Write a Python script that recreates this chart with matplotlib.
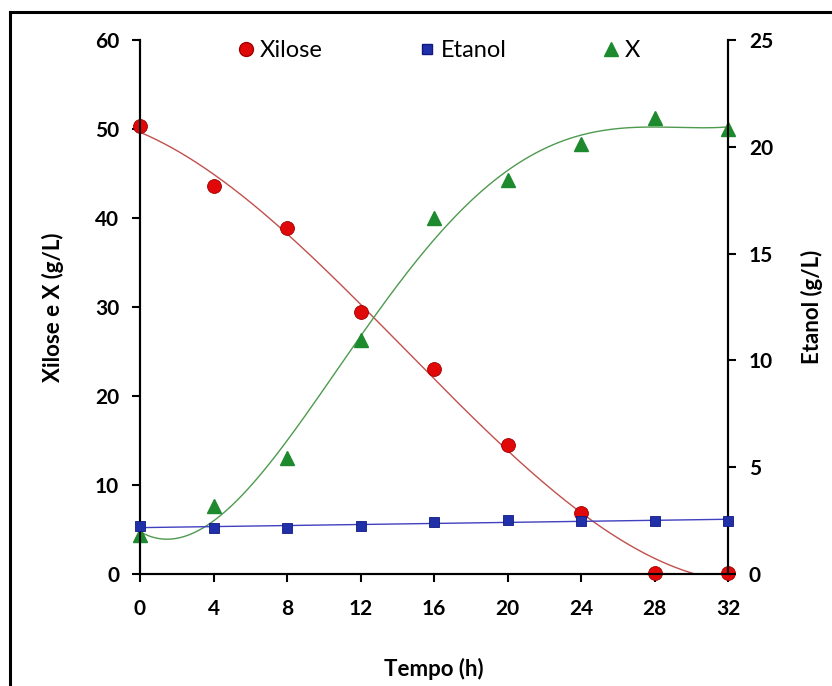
import numpy as np
import matplotlib
matplotlib.use("Agg")
import matplotlib.pyplot as plt
from matplotlib.lines import Line2D

plt.rcParams['font.family'] = ['Lato', 'DejaVu Sans']

tempo = [0, 4, 8, 12, 16, 20, 24, 28, 32]
xilose = [50.3, 43.6, 38.9, 29.4, 23.0, 14.5, 6.9, 0.1, 0.1]
biomassa = [4.35, 7.6, 13.0, 26.3, 40.0, 44.3, 48.3, 51.2, 50.0]
etanol = [2.25, 2.17, 2.17, 2.25, 2.42, 2.54, 2.5, 2.5, 2.5]

t = np.array(tempo, dtype=float)
tt = np.linspace(0, 32, 300)

# polynomial trend lines (like excel)
fit_x = np.polyval(np.polyfit(t, xilose, 3), tt)
fit_b = np.polyval(np.polyfit(t, biomassa, 4), tt)
fit_e = np.polyval(np.polyfit(t, etanol, 1), tt)

fig = plt.figure(figsize=(8.32, 6.86), dpi=100)
ax = fig.add_axes([140/832, 112/686, 588/832, 534/686])
ax2 = ax.twinx()

ax.plot(tt, fit_x, color='#c0504d', lw=1.0, zorder=2)
ax.plot(tt, fit_b, color='#4e9a4e', lw=1.0, zorder=2)
ax2.plot(tt, fit_e, color='#4040c0', lw=1.0, zorder=2)

ax.plot(tempo, xilose, 'o', ms=10, color='#e00808', mec='#a00000', mew=0.6, clip_on=False, zorder=4)
ax.plot(tempo, biomassa, '^', ms=10, color='#1e8a2e', mec='#1e8a2e', clip_on=False, zorder=4)
ax2.plot(tempo, etanol, 's', ms=7.5, color='#2030a8', mec='#101880', mew=0.6, clip_on=False, zorder=4)

ax.set_xlim(0, 32)
ax.set_ylim(0, 60)
ax2.set_ylim(0, 25)
ax.set_xticks(range(0, 33, 4))
ax.set_yticks(range(0, 61, 10))
ax2.set_yticks(range(0, 26, 5))

for a in (ax, ax2):
    a.spines['top'].set_visible(False)
    for s in a.spines.values():
        s.set_linewidth(1.5)
    a.tick_params(direction='out', length=6, width=1.5, labelsize=15, pad=7)
    for lab in a.get_xticklabels() + a.get_yticklabels():
        lab.set_fontweight('bold')
ax.tick_params(axis='x', pad=12)
ax.tick_params(axis='y', pad=9)
ax2.tick_params(axis='y', pad=9)

ax.set_xlabel('Tempo (h)', fontsize=16, fontweight='bold', labelpad=28)
ax.set_ylabel('Xilose e X (g/L)', fontsize=16, fontweight='bold', labelpad=22)
ax2.set_ylabel('Etanol (g/L)', fontsize=16, fontweight='bold', labelpad=20)

handles = [
    Line2D([], [], ls='none', marker='o', ms=10, color='#e00808', mec='#a00000'),
    Line2D([], [], ls='none', marker='s', ms=7.5, color='#2030a8', mec='#101880'),
    Line2D([], [], ls='none', marker='^', ms=10, color='#1e8a2e'),
]
ax.legend(handles, ['Xilose', 'Etanol', 'X'], ncol=3, frameon=False,
          loc='upper center', bbox_to_anchor=(0.505, 1.04), fontsize=17,
          handletextpad=0.1, columnspacing=3.9, handlelength=1.0)

# frame around the image (left and top edges visible)
fig.add_artist(Line2D([9.5/832, 9.5/832], [0, 1 - 11.5/686], color='black', lw=2.2, transform=fig.transFigure))
fig.add_artist(Line2D([9.5/832, 1], [1 - 11.5/686, 1 - 11.5/686], color='black', lw=2.2, transform=fig.transFigure))

fig.savefig('out.png', dpi=100)
